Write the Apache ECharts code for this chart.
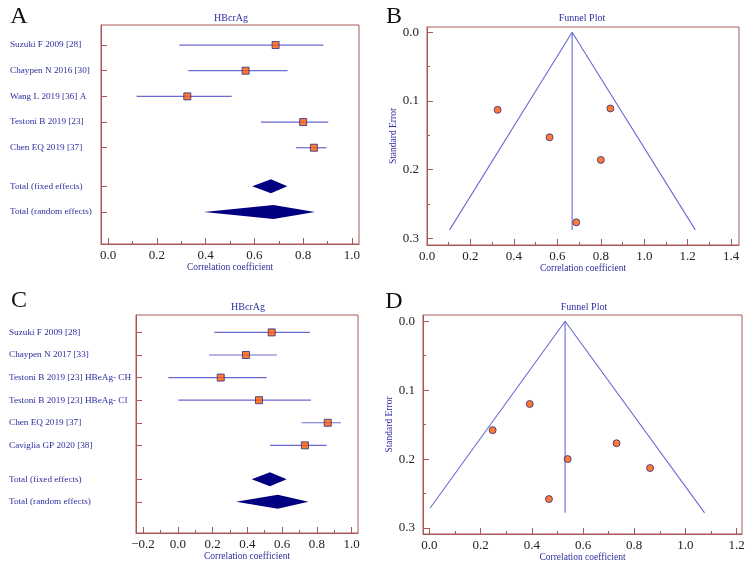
<!DOCTYPE html>
<html>
<head>
<meta charset="utf-8">
<script src="https://cdn.jsdelivr.net/npm/echarts@6/dist/echarts.min.js"></script>
<style>
  html, body { margin: 0; padding: 0; background: #fff; }
  #main { width: 751px; height: 566px; }
</style>
</head>
<body>
<div id="main"></div>
<script>
// panel A / B : HBcrAg, first set of studies
var studiesA = ['Suzuki F 2009 [28]', 'Chaypen N 2016 [30]', 'Wang L 2019 [36] A', 'Testoni B 2019 [23]', 'Chen EQ 2019 [37]'];
var rA  = [0.687, 0.564, 0.325, 0.800, 0.844];
var loA = [0.292, 0.329, 0.117, 0.627, 0.770];
var hiA = [0.883, 0.736, 0.507, 0.903, 0.896];
var seA = [0.277, 0.153, 0.113, 0.186, 0.111];
var totalsNames = ['Total (fixed effects)', 'Total (random effects)'];
var fixedA  = [0.591, 0.668, 0.735];
var randomA = [0.393, 0.678, 0.848];
var funnelBx = [0.104, 0.668, 1.235];
var funnelBy = [0.288, 0, 0.288];

// panel C / D : second set of studies
var studiesC = ['Suzuki F 2009 [28]', 'Chaypen N 2017 [33]', 'Testoni B 2019 [23] HBeAg- CH', 'Testoni B 2019 [23] HBeAg- CI', 'Chen EQ 2019 [37]', 'Caviglia GP 2020 [38]'];
var rC  = [0.540, 0.392, 0.247, 0.467, 0.862, 0.731];
var loC = [0.210, 0.180, -0.054, 0.003, 0.712, 0.530];
var hiC = [0.760, 0.569, 0.511, 0.766, 0.937, 0.856];
var seC = [0.200, 0.120, 0.158, 0.258, 0.213, 0.177];
var fixedC  = [0.425, 0.530, 0.626];
var randomC = [0.335, 0.575, 0.751];
var funnelDx = [0.003, 0.530, 1.075];
var funnelDy = [0.271, 0, 0.278];

// tick labels
var ticksA = [0, 0.2, 0.4, 0.6, 0.8, 1.0];
var ticksB = [0, 0.2, 0.4, 0.6, 0.8, 1.0, 1.2, 1.4];
var ticksC = [-0.2, 0, 0.2, 0.4, 0.6, 0.8, 1.0];
var ticksD = [0, 0.2, 0.4, 0.6, 0.8, 1.0, 1.2];
var ticksSE = [0, 0.1, 0.2, 0.3];

var BORDER = '#a85858';
var BLUE = '#2e2e9e';
var LINE = '#6a6ad0';
var SERIF = '"Liberation Serif", "DejaVu Serif", serif';

function steps(a, b, s) {
    var out = [];
    for (var v = a; v <= b + 1e-9; v += s) out.push(Math.round(v * 1000) / 1000);
    return out;
}
function fmt(v) {
    return v.toFixed(1).replace('-', '\u2212');
}

function rowPos(n) {
    var p = [];
    for (var i = 0; i < n; i++) p.push(i);
    p.push(n + 0.5, n + 1.5);
    return p;
}

function xAxisMain(grid, min, max, labels) {
    return {
        type: 'value', gridIndex: grid, min: min, max: max, position: 'bottom',
        splitLine: { show: false },
        axisLine: { onZero: false, lineStyle: { color: BORDER } },
        axisTick: { inside: true, length: 6, customValues: labels, lineStyle: { color: BORDER } },
        axisLabel: { customValues: labels, formatter: fmt, margin: 5, color: '#222', fontSize: 13, fontFamily: SERIF },
        name: 'Correlation coefficient', nameLocation: 'middle', nameGap: 18,
        nameTextStyle: { color: BLUE, fontSize: 9.5, fontFamily: SERIF }
    };
}
function xAxisMinor(grid, min, max, minors) {
    return {
        type: 'value', gridIndex: grid, min: min, max: max, position: 'bottom',
        splitLine: { show: false },
        axisLine: { show: false, onZero: false },
        axisTick: { inside: true, length: 3, customValues: minors, lineStyle: { color: BORDER } },
        axisLabel: { show: false }
    };
}
function yForest(grid, min, max, names, margin) {
    var pos = rowPos(names.length - 2);
    return {
        type: 'value', gridIndex: grid, min: min, max: max, inverse: true, position: 'left',
        splitLine: { show: false },
        axisLine: { onZero: false, lineStyle: { color: BORDER } },
        axisTick: { inside: true, length: 6, customValues: pos, lineStyle: { color: BORDER } },
        axisLabel: {
            customValues: pos, align: 'left', margin: margin,
            color: BLUE, fontSize: 9.2, fontFamily: SERIF,
            formatter: function (v) {
                for (var i = 0; i < pos.length; i++) if (Math.abs(pos[i] - v) < 1e-6) return names[i];
                return '';
            }
        }
    };
}
function ySE(grid, min, max) {
    return {
        type: 'value', gridIndex: grid, min: min, max: max, inverse: true, position: 'left',
        splitLine: { show: false },
        axisLine: { onZero: false, lineStyle: { color: BORDER } },
        axisTick: { inside: true, length: 6, customValues: ticksSE, lineStyle: { color: BORDER } },
        axisLabel: { customValues: ticksSE, formatter: fmt, margin: 8, color: '#222', fontSize: 13, fontFamily: SERIF },
        name: 'Standard Error', nameLocation: 'middle', nameGap: 29, nameRotate: 90,
        nameTextStyle: { color: BLUE, fontSize: 9.5, fontFamily: SERIF }
    };
}
function ySEminor(grid, min, max) {
    return {
        type: 'value', gridIndex: grid, min: min, max: max, inverse: true, position: 'left',
        splitLine: { show: false }, axisLine: { show: false, onZero: false },
        axisTick: { inside: true, length: 3, customValues: [0.05, 0.15, 0.25], lineStyle: { color: BORDER } },
        axisLabel: { show: false }
    };
}

function ciSeries(xi, yi, lo, hi) {
    return {
        type: 'custom', xAxisIndex: xi, yAxisIndex: yi,
        data: lo.map(function (l, i) { return [l, hi[i], i]; }),
        renderItem: function (params, api) {
            var a = api.coord([api.value(0), api.value(2)]);
            var b = api.coord([api.value(1), api.value(2)]);
            return { type: 'line', shape: { x1: a[0], y1: a[1], x2: b[0], y2: b[1] },
                     style: { stroke: LINE, lineWidth: 1.2 } };
        },
        z: 2
    };
}
function pointSeries(xi, yi, r) {
    return {
        type: 'scatter', xAxisIndex: xi, yAxisIndex: yi, symbol: 'rect', symbolSize: 7,
        data: r.map(function (v, i) { return [v, i]; }),
        itemStyle: { color: '#ff5a00', borderColor: '#2a2a8a', borderWidth: 1 },
        z: 3
    };
}
function diamondSeries(xi, yi, n, fixed, random) {
    return {
        type: 'custom', xAxisIndex: xi, yAxisIndex: yi,
        data: [fixed.concat([n + 0.5]), random.concat([n + 1.5])],
        renderItem: function (params, api) {
            var l = api.coord([api.value(0), api.value(3)]);
            var m = api.coord([api.value(1), api.value(3)]);
            var r = api.coord([api.value(2), api.value(3)]);
            var h = 7;
            return { type: 'polygon', shape: { points: [[l[0], l[1]], [m[0], m[1] - h], [r[0], r[1]], [m[0], m[1] + h]] },
                     style: { fill: '#000080' } };
        },
        z: 3
    };
}
function funnelSeries(xi, yi, fx, fy) {
    return [{
        type: 'line', xAxisIndex: xi, yAxisIndex: yi, symbol: 'none',
        data: fx.map(function (v, i) { return [v, fy[i]]; }),
        lineStyle: { color: LINE, width: 1.1 }
    }, {
        type: 'line', xAxisIndex: xi, yAxisIndex: yi, symbol: 'none',
        data: [[fx[1], 0], [fx[1], Math.max(fy[0], fy[2])]],
        lineStyle: { color: LINE, width: 1.1 }
    }];
}
function dotSeries(xi, yi, r, se) {
    return {
        type: 'scatter', xAxisIndex: xi, yAxisIndex: yi, symbol: 'circle', symbolSize: 7,
        data: r.map(function (v, i) { return [v, se[i]]; }),
        itemStyle: { color: '#ff5a00', borderColor: '#2a2a8a', borderWidth: 1 },
        z: 3
    };
}

function txt(t, x, y, size, color) {
    return { type: 'text', x: x, y: y,
             style: { text: t, fill: color, fontSize: size, fontFamily: SERIF, align: 'center', verticalAlign: 'middle' } };
}

var gridStyle = { show: true, borderColor: BORDER, borderWidth: 1, containLabel: false };

var myChart = echarts.init(document.getElementById('main'));
var option = {
    backgroundColor: '#fff',
    animation: false,
    graphic: [
        txt('A', 19, 17, 24, '#111'),
        txt('B', 394, 17, 24, '#111'),
        txt('C', 19, 301, 24, '#111'),
        txt('D', 394, 302, 24, '#111'),
        txt('HBcrAg', 231, 18, 10, BLUE),
        txt('Funnel Plot', 582, 18, 10, BLUE),
        txt('HBcrAg', 248, 307, 10, BLUE),
        txt('Funnel Plot', 584, 307, 10, BLUE)
    ],
    grid: [
        Object.assign({ left: 101, top: 25, width: 258, height: 219 }, gridStyle),
        Object.assign({ left: 427, top: 27, width: 312, height: 218 }, gridStyle),
        Object.assign({ left: 136, top: 315, width: 222, height: 218 }, gridStyle),
        Object.assign({ left: 423, top: 315, width: 319, height: 219 }, gridStyle)
    ],
    xAxis: [
        xAxisMain(0, -0.029, 1.029, ticksA),
        xAxisMain(1, 0, 1.436, ticksB),
        xAxisMain(2, -0.24, 1.036, ticksC),
        xAxisMain(3, -0.025, 1.221, ticksD),
        xAxisMinor(0, -0.029, 1.029, steps(0.1, 0.9, 0.2)),
        xAxisMinor(1, 0, 1.436, steps(0.1, 1.3, 0.2)),
        xAxisMinor(2, -0.24, 1.036, steps(-0.1, 0.9, 0.2)),
        xAxisMinor(3, -0.025, 1.221, steps(0.1, 1.1, 0.2))
    ],
    yAxis: [
        yForest(0, -0.78, 7.75, studiesA.concat(totalsNames), 91),
        ySE(1, -0.0077, 0.31),
        yForest(2, -0.77, 8.88, studiesC.concat(totalsNames), 127),
        ySE(3, -0.0091, 0.3087),
        ySEminor(1, -0.0077, 0.31),
        ySEminor(3, -0.0091, 0.3087)
    ],
    series: [
        ciSeries(0, 0, loA, hiA),
        pointSeries(0, 0, rA),
        diamondSeries(0, 0, studiesA.length, fixedA, randomA),
        dotSeries(1, 1, rA, seA),
        ciSeries(2, 2, loC, hiC),
        pointSeries(2, 2, rC),
        diamondSeries(2, 2, studiesC.length, fixedC, randomC),
        dotSeries(3, 3, rC, seC)
    ].concat(funnelSeries(1, 1, funnelBx, funnelBy), funnelSeries(3, 3, funnelDx, funnelDy))
};
myChart.setOption(option);
</script>
</body>
</html>
